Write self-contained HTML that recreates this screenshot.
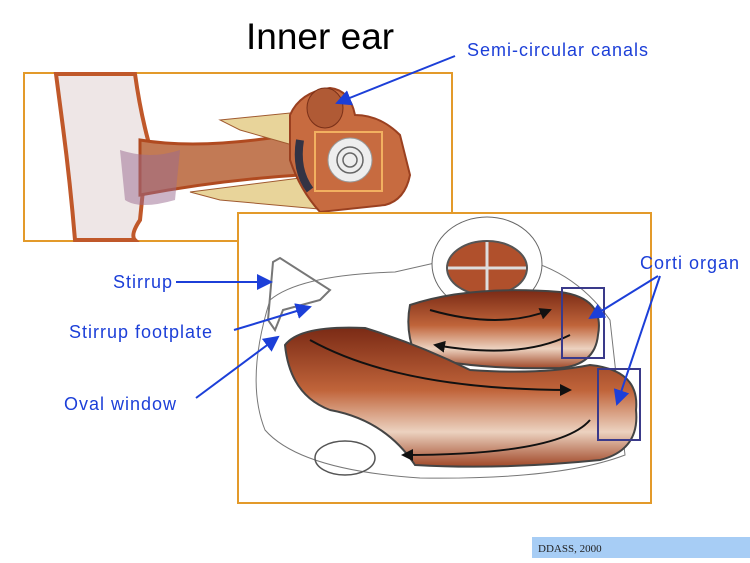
<!DOCTYPE html>
<html><head><style>
body{margin:0;width:750px;height:563px;background:#fff;overflow:hidden;position:relative;font-family:"Liberation Sans",sans-serif}
.l{position:absolute;color:#1c3fd8;font-size:18px;letter-spacing:1px;white-space:nowrap}
</style></head><body>
<svg width="750" height="563" style="position:absolute;left:0;top:0">
<defs>
<linearGradient id="br" x1="0" y1="0" x2="0" y2="1">
<stop offset="0" stop-color="#7a2a15"/><stop offset="0.45" stop-color="#c0643a"/><stop offset="0.75" stop-color="#ecd2c0"/><stop offset="1" stop-color="#a04828"/></linearGradient>
<marker id="a" markerWidth="8" markerHeight="8" refX="7" refY="4" orient="auto"><path d="M0,0L8,4L0,8z" fill="#1c3fd8"/></marker>
<marker id="k" markerWidth="6" markerHeight="6" refX="5" refY="3" orient="auto"><path d="M0,0L6,3L0,6z" fill="#111"/></marker>
</defs>
<rect x="24" y="73" width="428" height="168" fill="#fff" stroke="#e39a2a" stroke-width="2"/>
<path d="M56,74 L135,74 Q140,110 148,140 L140,220 Q130,235 135,240 L75,240 Q70,180 62,120 Z" fill="#eee6e6" stroke="#c0582a" stroke-width="4"/>
<path d="M140,140 Q200,150 290,135 L300,175 Q220,180 140,195 Z" fill="#c27a55" stroke="#b04a20" stroke-width="3"/>
<path d="M120,150 Q150,160 180,150 L175,200 Q140,210 125,200 Z" fill="#9a6a90" opacity="0.5"/>
<path d="M220,120 L300,112 L310,150 L240,130 Z" fill="#e8d49a" stroke="#a05a30"/>
<path d="M190,192 L300,178 L330,210 L220,200 Z" fill="#e8d49a" stroke="#a05a30"/>
<path d="M290,115 Q300,92 330,88 Q350,90 355,115 Q380,115 400,135 L410,175 Q405,200 385,205 L320,212 Q300,190 290,160 Z" fill="#c76b40" stroke="#9a4020" stroke-width="2"/>
<ellipse cx="325" cy="108" rx="18" ry="20" fill="#b05a35" stroke="#7a3018"/>
<rect x="315" y="132" width="67" height="59" fill="none" stroke="#f2b060" stroke-width="2"/>
<circle cx="350" cy="160" r="22" fill="#eeeeee" stroke="#999"/>
<circle cx="350" cy="160" r="13" fill="none" stroke="#666" stroke-width="1.5"/>
<circle cx="350" cy="160" r="7" fill="none" stroke="#666" stroke-width="1.5"/>
<path d="M300,140 Q295,170 310,190" stroke="#334" stroke-width="8" fill="none"/>
<rect x="238" y="213" width="413" height="290" fill="#fff" stroke="#e39a2a" stroke-width="2"/>
<path d="M395,272 Q300,275 270,300 Q245,380 265,430 Q300,470 420,478 Q560,480 625,455 L610,320 Q560,250 470,255 Z" fill="none" stroke="#777"/>
<ellipse cx="487" cy="264" rx="55" ry="47" fill="#fff" stroke="#666"/>
<ellipse cx="487" cy="268" rx="40" ry="27" fill="#b0502c" stroke="#555" stroke-width="2"/>
<path d="M448,268 L526,268 M487,242 L487,293" stroke="#ddd" stroke-width="3"/>
<ellipse cx="345" cy="458" rx="30" ry="17" fill="none" stroke="#555" stroke-width="1.5"/>
<path d="M410,305 Q470,285 560,292 Q605,298 598,335 Q595,365 560,368 Q470,370 415,355 Q405,330 410,305Z" fill="url(#br)" stroke="#444" stroke-width="2"/>
<path d="M285,345 Q300,325 365,328 Q420,345 470,370 Q540,375 590,365 Q640,370 636,410 Q640,450 600,460 Q500,470 415,465 Q385,420 330,410 Q290,395 285,345Z" fill="url(#br)" stroke="#444" stroke-width="2"/>
<path d="M310,340 Q400,390 570,390" stroke="#111" stroke-width="2" fill="none" marker-end="url(#k)"/>
<path d="M590,420 Q560,455 403,455" stroke="#111" stroke-width="2" fill="none" marker-end="url(#k)"/>
<path d="M430,310 Q500,330 550,310" stroke="#111" stroke-width="2" fill="none" marker-end="url(#k)"/>
<path d="M570,335 Q520,360 435,345" stroke="#111" stroke-width="2" fill="none" marker-end="url(#k)"/>
<path d="M273,262 L280,258 L330,290 L320,300 L283,310 L275,330 L268,320 Z" fill="none" stroke="#777" stroke-width="2"/>
<rect x="562" y="288" width="42" height="70" fill="none" stroke="#3a3a8a" stroke-width="2"/>
<rect x="598" y="369" width="42" height="71" fill="none" stroke="#3a3a8a" stroke-width="2"/>
<g stroke="#1c3fd8" stroke-width="2" marker-end="url(#a)">
<line x1="455" y1="56" x2="337" y2="103"/>
<line x1="176" y1="282" x2="271" y2="282"/>
<line x1="234" y1="330" x2="310" y2="307"/>
<line x1="196" y1="398" x2="278" y2="337"/>
<line x1="658" y1="276" x2="590" y2="318"/>
<line x1="660" y1="276" x2="617" y2="404"/>
</g>
<rect x="532" y="537" width="218" height="21" fill="#a7cdf5"/>
<text x="538" y="552" font-family="Liberation Serif" font-size="11" fill="#222">DDASS, 2000</text>
</svg>
<div style="position:absolute;left:246px;top:16px;font-size:37px;color:#000">Inner ear</div>
<div class="l" style="left:467px;top:40px">Semi-circular canals</div>
<div class="l" style="left:640px;top:253px">Corti organ</div>
<div class="l" style="left:113px;top:272px">Stirrup</div>
<div class="l" style="left:69px;top:322px">Stirrup footplate</div>
<div class="l" style="left:64px;top:394px">Oval window</div>
</body></html>
